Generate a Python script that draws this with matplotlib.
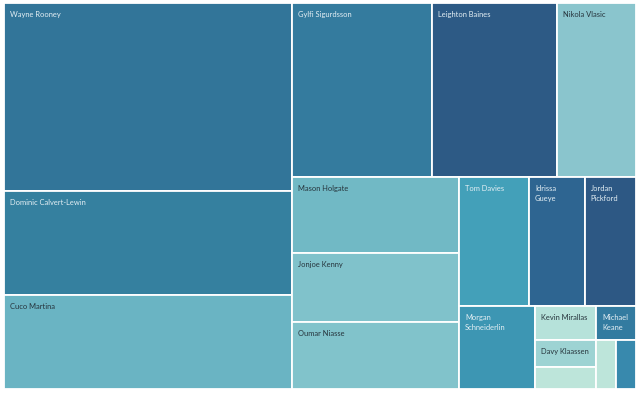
import matplotlib
matplotlib.use("Agg")
import matplotlib.pyplot as plt
from matplotlib.patches import Rectangle
from matplotlib.colors import to_rgb

# data: one value per player, already sorted largest first
players = ["Wayne Rooney", "Dominic Calvert-Lewin", "Cuco Martina",
           "Gylfi Sigurdsson", "Leighton Baines", "Nikola Vlasic",
           "Mason Holgate", "Jonjoe Kenny", "Oumar Niasse",
           "Tom Davies", "Idrissa Gueye", "Jordan Pickford",
           "Morgan Schneiderlin", "Kevin Mirallas", "Davy Klaassen",
           "Other A", "Michael Keane", "Other B", "Other C"]
values = [543, 297, 272, 244, 218, 137, 127, 115, 112, 90, 72, 66,
          63, 20.7, 16.5, 13.4, 13.3, 9.8, 9.8]

# style
fill_colors = ["#327599", "#35809f", "#6ab4c3", "#347b9e", "#2d5a85", "#8ac5cd",
               "#71b9c5", "#80c2cb", "#81c3cb", "#43a0b9", "#2e6591", "#2d5884",
               "#3d96b3", "#b6e2da", "#9dd3d3", "#bde5da", "#337ba0", "#bde5da",
               "#3889ad"]
light_text = "#e4eff4"
dark_text = "#26343c"


#########################################################
# squarified layout (keeps adding to a strip while boxes stay reasonably square)

def worst_ratio(areas, side):
    thick = sum(areas) / side
    return max(max(thick / (a / thick), (a / thick) / thick) for a in areas)


def squarify(areas, x, y, w, h, limit=3.2):
    rects = []
    i = 0
    while i < len(areas):
        side = min(w, h)
        n = 1
        cur = worst_ratio(areas[i:i + 1], side)
        while i + n < len(areas):
            nxt = worst_ratio(areas[i:i + n + 1], side)
            if nxt <= cur or nxt <= limit:
                n += 1
                cur = nxt
            else:
                break
        strip = areas[i:i + n]
        thick = sum(strip) / side
        pos = 0
        for a in strip:
            length = a / thick
            if w >= h:   # column on the left
                rects.append((x, y + pos, thick, length))
            else:        # row on top
                rects.append((x + pos, y, length, thick))
            pos += length
        if w >= h:
            x += thick
            w -= thick
        else:
            y += thick
            h -= thick
        i += n
    return rects


fig = plt.figure(figsize=(6.4, 3.94), dpi=100)
ax = fig.add_axes([4 / 640, 5 / 394, 632 / 640, 386 / 394])
W, H = 632, 386   # axes size in pixels, used as data units
ax.set_xlim(0, W)
ax.set_ylim(H, 0)
ax.axis("off")

scale = W * H / sum(values)
rects = squarify([v * scale for v in values], 0, 0, W, H)

renderer = fig.canvas.get_renderer()
for name, col, (rx, ry, rw, rh) in zip(players, fill_colors, rects):
    ax.add_patch(Rectangle((rx, ry), rw, rh, facecolor=col, edgecolor="white", linewidth=1.3))
    if rw < 24 or rh < 24:
        continue
    r, g, b = to_rgb(col)
    lum = 0.299 * r + 0.587 * g + 0.114 * b
    tc = dark_text if lum > 0.58 else light_text
    t = ax.text(rx + 6, ry + 8, name, ha="left", va="top", fontsize=5.4,
                family=["Lato", "DejaVu Sans"], color=tc, linespacing=1.55)
    if t.get_window_extent(renderer).width > rw - 12:
        t.set_text("\n".join(name.split()))

fig.savefig("out.png", dpi=100, facecolor="white")
